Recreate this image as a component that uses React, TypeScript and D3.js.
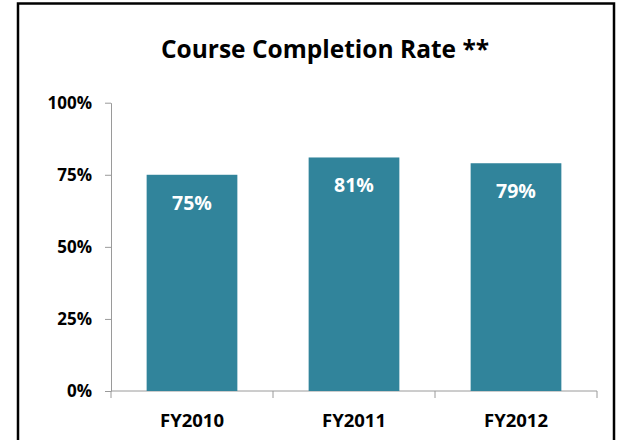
import { useEffect, useRef } from "react"
import * as d3 from "d3"

const categories = ["FY2010", "FY2011", "FY2012"]
const rates = [0.75, 0.81, 0.79]
const yTicks = [0, 0.25, 0.5, 0.75, 1]
const title = "Course Completion Rate **"

export default function App() {
    const ref = useRef<SVGSVGElement>(null)
    const barColor = "#31849b", axisColor = "#9a9a9a"
    const fontFamily = "'Open Sans', Lato, sans-serif"

    useEffect(() => {
        document.body.style.margin = "0"
        const svg = d3.select(ref.current)
        svg.selectAll("*").remove()

        const left = 111, right = 597, top = 102.7, bottom = 391

        // frame, open at the bottom like the cropped original
        svg.append("rect")
            .attr("x", 18).attr("y", 3.5)
            .attr("width", 596).attr("height", 480)
            .attr("fill", "none")
            .attr("stroke", "#000")
            .attr("stroke-width", 2.5)

        svg.append("text")
            .attr("x", 325).attr("y", 58)
            .attr("text-anchor", "middle")
            .style("font-family", fontFamily)
            .style("font-weight", "bold")
            .style("font-size", "24.5px")
            .text(title)

        const x = d3.scaleBand<string>()
            .domain(categories)
            .range([left, right])
            .paddingInner(0.44)
            .paddingOuter(0.22)

        const y = d3.scaleLinear()
            .domain([0, 1])
            .range([bottom, top])

        const yAxis = d3.axisLeft(y)
            .tickValues(yTicks)
            .tickFormat(d3.format(".0%"))
            .tickSize(6)
            .tickSizeOuter(0)
            .tickPadding(13)

        const gy = svg.append("g")
            .attr("transform", `translate(${left},0)`)
            .call(yAxis)
        gy.select(".domain").attr("stroke", axisColor)
        gy.selectAll(".tick line").attr("stroke", axisColor)
        gy.selectAll(".tick text")
            .attr("fill", "#000")
            .style("font-family", fontFamily)
            .style("font-weight", "bold")
            .style("font-size", "17px")

        // x axis: baseline plus ticks at the category boundaries
        const gx = svg.append("g")
        gx.append("line")
            .attr("x1", left).attr("x2", right)
            .attr("y1", bottom).attr("y2", bottom)
            .attr("stroke", axisColor)
        gx.selectAll(".bound")
            .data(d3.range(categories.length + 1))
            .join("line")
            .attr("class", "bound")
            .attr("x1", (i) => left + i * x.step())
            .attr("x2", (i) => left + i * x.step())
            .attr("y1", bottom).attr("y2", bottom + 7)
            .attr("stroke", axisColor)
        gx.selectAll(".cat")
            .data(categories)
            .join("text")
            .attr("class", "cat")
            .attr("x", (d) => x(d)! + x.bandwidth() / 2)
            .attr("y", 427)
            .attr("text-anchor", "middle")
            .style("font-family", fontFamily)
            .style("font-weight", "bold")
            .style("font-size", "18.5px")
            .text((d) => d)

        const bars = svg.append("g")
        bars.selectAll("rect")
            .data(rates)
            .join("rect")
            .attr("x", (d, i) => x(categories[i])!)
            .attr("y", (d) => y(d))
            .attr("width", x.bandwidth())
            .attr("height", (d) => bottom - y(d))
            .attr("fill", barColor)

        bars.selectAll("text")
            .data(rates)
            .join("text")
            .attr("x", (d, i) => x(categories[i])! + x.bandwidth() / 2)
            .attr("y", (d) => y(d) + 35)
            .attr("text-anchor", "middle")
            .attr("fill", "#fff")
            .style("font-family", fontFamily)
            .style("font-weight", "bold")
            .style("font-size", "19.5px")
            .text((d) => d3.format(".0%")(d))
    }, [])

    return (
        <svg ref={ref} width={618} height={440} style={{ display: "block", background: "#fff" }}></svg>
    )
}
